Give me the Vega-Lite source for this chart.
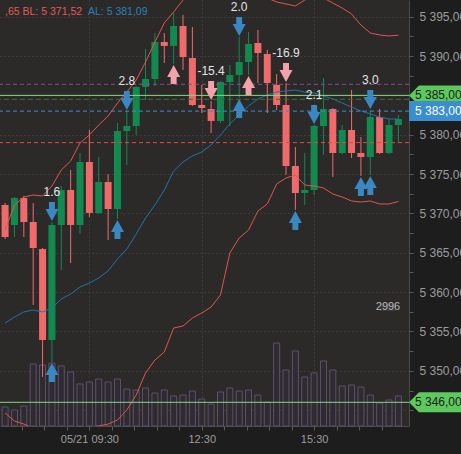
{
  "$schema": "https://vega.github.io/schema/vega-lite/v6.json",
  "width": 409,
  "height": 426,
  "autosize": {"type": "none"},
  "padding": {"left": 0, "top": 0, "right": 52, "bottom": 28},
  "background": "#1d1d1d",
  "config": {
    "view": {"fill": "#2b2a28", "stroke": null},
    "font": "Liberation Sans",
    "axis": {"labelOverlap": false, "labelFlush": false},
    "locale": {"number": {"decimal": ",", "thousands": " ", "grouping": [3], "currency": ["", ""]}}
  },
  "datasets": {
    "candles": [
      {"t": "2024-05-21T07:15:00Z", "o": 5371.07, "h": 5371.33, "l": 5366.75, "c": 5367.01, "v": 478, "bbu": 5367.90, "bbm": 5356.08, "bbl": 5344.64},
      {"t": "2024-05-21T07:30:00Z", "o": 5368.53, "h": 5372.09, "l": 5367.01, "c": 5371.96, "v": 403, "bbu": 5371.07, "bbm": 5356.84, "bbl": 5343.63},
      {"t": "2024-05-21T07:45:00Z", "o": 5371.96, "h": 5372.22, "l": 5367.01, "c": 5368.91, "v": 504, "bbu": 5372.09, "bbm": 5357.48, "bbl": 5343.24},
      {"t": "2024-05-21T08:00:00Z", "o": 5368.91, "h": 5371.33, "l": 5358.37, "c": 5365.61, "v": 1561, "bbu": 5372.34, "bbm": 5357.73, "bbl": 5342.74},
      {"t": "2024-05-21T08:15:00Z", "o": 5365.48, "h": 5365.61, "l": 5349.22, "c": 5353.92, "v": 1536, "bbu": 5372.22, "bbm": 5357.48, "bbl": 5342.23},
      {"t": "2024-05-21T08:30:00Z", "o": 5353.92, "h": 5368.91, "l": 5351.12, "c": 5368.53, "v": 1586, "bbu": 5373.49, "bbm": 5357.98, "bbl": 5341.97},
      {"t": "2024-05-21T08:45:00Z", "o": 5368.53, "h": 5373.49, "l": 5362.81, "c": 5372.98, "v": 1511, "bbu": 5375.52, "bbm": 5359.13, "bbl": 5341.97},
      {"t": "2024-05-21T09:00:00Z", "o": 5372.98, "h": 5375.52, "l": 5363.70, "c": 5368.53, "v": 1360, "bbu": 5376.66, "bbm": 5359.76, "bbl": 5342.23},
      {"t": "2024-05-21T09:15:00Z", "o": 5368.53, "h": 5377.68, "l": 5367.39, "c": 5376.54, "v": 1058, "bbu": 5378.95, "bbm": 5360.65, "bbl": 5342.61},
      {"t": "2024-05-21T09:30:00Z", "o": 5376.54, "h": 5380.60, "l": 5369.55, "c": 5370.06, "v": 1108, "bbu": 5379.97, "bbm": 5361.16, "bbl": 5342.86},
      {"t": "2024-05-21T09:45:00Z", "o": 5370.06, "h": 5377.17, "l": 5369.93, "c": 5373.99, "v": 1183, "bbu": 5381.24, "bbm": 5361.80, "bbl": 5342.99},
      {"t": "2024-05-21T10:00:00Z", "o": 5373.99, "h": 5375.01, "l": 5366.62, "c": 5370.56, "v": 1108, "bbu": 5382.38, "bbm": 5362.69, "bbl": 5343.24},
      {"t": "2024-05-21T10:15:00Z", "o": 5370.56, "h": 5381.49, "l": 5369.29, "c": 5380.47, "v": 1183, "bbu": 5384.03, "bbm": 5364.21, "bbl": 5343.75},
      {"t": "2024-05-21T10:30:00Z", "o": 5380.47, "h": 5383.02, "l": 5376.15, "c": 5381.11, "v": 932, "bbu": 5385.43, "bbm": 5365.48, "bbl": 5345.02},
      {"t": "2024-05-21T10:45:00Z", "o": 5381.11, "h": 5386.19, "l": 5379.97, "c": 5386.07, "v": 906, "bbu": 5386.96, "bbm": 5367.39, "bbl": 5346.93},
      {"t": "2024-05-21T11:00:00Z", "o": 5386.07, "h": 5390.89, "l": 5384.41, "c": 5387.08, "v": 957, "bbu": 5389.24, "bbm": 5369.42, "bbl": 5349.73},
      {"t": "2024-05-21T11:15:00Z", "o": 5387.08, "h": 5392.93, "l": 5386.19, "c": 5391.78, "v": 831, "bbu": 5391.78, "bbm": 5371.07, "bbl": 5351.38},
      {"t": "2024-05-21T11:30:00Z", "o": 5391.78, "h": 5392.93, "l": 5389.12, "c": 5391.28, "v": 906, "bbu": 5394.20, "bbm": 5372.98, "bbl": 5352.39},
      {"t": "2024-05-21T11:45:00Z", "o": 5391.28, "h": 5395.47, "l": 5388.99, "c": 5393.82, "v": 755, "bbu": 5395.60, "bbm": 5375.39, "bbl": 5355.44},
      {"t": "2024-05-21T12:00:00Z", "o": 5393.82, "h": 5395.21, "l": 5388.23, "c": 5389.88, "v": 781, "bbu": 5397.12, "bbm": 5376.54, "bbl": 5355.70},
      {"t": "2024-05-21T12:15:00Z", "o": 5389.75, "h": 5393.69, "l": 5383.65, "c": 5383.78, "v": 881, "bbu": 5398.39, "bbm": 5377.30, "bbl": 5356.71},
      {"t": "2024-05-21T12:30:00Z", "o": 5383.78, "h": 5386.32, "l": 5382.76, "c": 5383.40, "v": 680, "bbu": 5399.41, "bbm": 5377.81, "bbl": 5357.35},
      {"t": "2024-05-21T12:45:00Z", "o": 5383.27, "h": 5384.29, "l": 5380.22, "c": 5381.75, "v": 554, "bbu": 5399.66, "bbm": 5378.70, "bbl": 5358.11},
      {"t": "2024-05-21T13:00:00Z", "o": 5381.75, "h": 5386.83, "l": 5381.49, "c": 5386.70, "v": 856, "bbu": 5399.41, "bbm": 5379.97, "bbl": 5359.64},
      {"t": "2024-05-21T13:15:00Z", "o": 5386.70, "h": 5388.86, "l": 5381.11, "c": 5387.59, "v": 957, "bbu": 5398.64, "bbm": 5381.36, "bbl": 5364.97},
      {"t": "2024-05-21T13:30:00Z", "o": 5387.59, "h": 5392.42, "l": 5384.67, "c": 5389.24, "v": 881, "bbu": 5397.88, "bbm": 5382.51, "bbl": 5366.88},
      {"t": "2024-05-21T13:45:00Z", "o": 5389.24, "h": 5393.05, "l": 5387.59, "c": 5391.53, "v": 906, "bbu": 5397.37, "bbm": 5383.65, "bbl": 5367.90},
      {"t": "2024-05-21T14:00:00Z", "o": 5391.66, "h": 5393.31, "l": 5386.57, "c": 5390.39, "v": 781, "bbu": 5397.76, "bbm": 5384.54, "bbl": 5370.31},
      {"t": "2024-05-21T14:15:00Z", "o": 5390.26, "h": 5390.77, "l": 5382.76, "c": 5386.57, "v": 604, "bbu": 5397.37, "bbm": 5385.05, "bbl": 5371.20},
      {"t": "2024-05-21T14:30:00Z", "o": 5386.32, "h": 5387.72, "l": 5383.14, "c": 5383.78, "v": 2090, "bbu": 5396.87, "bbm": 5385.43, "bbl": 5373.74},
      {"t": "2024-05-21T14:45:00Z", "o": 5383.78, "h": 5386.57, "l": 5374.88, "c": 5376.03, "v": 1410, "bbu": 5396.61, "bbm": 5385.56, "bbl": 5374.50},
      {"t": "2024-05-21T15:00:00Z", "o": 5376.03, "h": 5378.44, "l": 5370.44, "c": 5372.60, "v": 1889, "bbu": 5396.36, "bbm": 5385.68, "bbl": 5374.88},
      {"t": "2024-05-21T15:15:00Z", "o": 5372.60, "h": 5377.68, "l": 5371.07, "c": 5372.98, "v": 1234, "bbu": 5397.12, "bbm": 5385.43, "bbl": 5373.61},
      {"t": "2024-05-21T15:30:00Z", "o": 5372.98, "h": 5381.24, "l": 5372.34, "c": 5381.11, "v": 1335, "bbu": 5397.63, "bbm": 5385.30, "bbl": 5373.49},
      {"t": "2024-05-21T15:45:00Z", "o": 5381.11, "h": 5387.21, "l": 5377.43, "c": 5383.27, "v": 1637, "bbu": 5397.37, "bbm": 5384.92, "bbl": 5373.23},
      {"t": "2024-05-21T16:00:00Z", "o": 5383.27, "h": 5383.40, "l": 5374.63, "c": 5377.68, "v": 1410, "bbu": 5396.74, "bbm": 5384.54, "bbl": 5372.47},
      {"t": "2024-05-21T16:15:00Z", "o": 5377.68, "h": 5381.24, "l": 5377.55, "c": 5380.60, "v": 1007, "bbu": 5396.10, "bbm": 5384.03, "bbl": 5372.09},
      {"t": "2024-05-21T16:30:00Z", "o": 5380.60, "h": 5385.68, "l": 5377.04, "c": 5377.68, "v": 1032, "bbu": 5395.34, "bbm": 5383.52, "bbl": 5371.58},
      {"t": "2024-05-21T16:45:00Z", "o": 5377.68, "h": 5379.71, "l": 5374.76, "c": 5377.17, "v": 982, "bbu": 5393.94, "bbm": 5383.02, "bbl": 5371.45},
      {"t": "2024-05-21T17:00:00Z", "o": 5377.17, "h": 5383.14, "l": 5374.88, "c": 5382.25, "v": 781, "bbu": 5392.93, "bbm": 5382.64, "bbl": 5371.58},
      {"t": "2024-05-21T17:15:00Z", "o": 5382.25, "h": 5383.27, "l": 5377.55, "c": 5377.68, "v": 579, "bbu": 5392.67, "bbm": 5382.25, "bbl": 5371.20},
      {"t": "2024-05-21T17:30:00Z", "o": 5377.68, "h": 5382.00, "l": 5377.55, "c": 5381.24, "v": 655, "bbu": 5392.55, "bbm": 5382.00, "bbl": 5371.20},
      {"t": "2024-05-21T17:45:00Z", "o": 5381.24, "h": 5382.51, "l": 5378.95, "c": 5382.00, "v": 755, "bbu": 5392.65, "bbm": 5382.00, "bbl": 5371.52}
    ],
    "arrows": [
      {"t": "2024-05-21T08:30:00Z", "price": 5368.91, "dir": "down", "side": "buy", "label": "1.6"},
      {"t": "2024-05-21T08:30:00Z", "price": 5351.12, "dir": "up", "side": "buy"},
      {"t": "2024-05-21T10:15:00Z", "price": 5369.29, "dir": "up", "side": "buy"},
      {"t": "2024-05-21T10:30:00Z", "price": 5383.02, "dir": "down", "side": "buy", "label": "2.8"},
      {"t": "2024-05-21T11:45:00Z", "price": 5388.99, "dir": "up", "side": "sell"},
      {"t": "2024-05-21T12:45:00Z", "price": 5384.29, "dir": "down", "side": "sell", "label": "-15.4"},
      {"t": "2024-05-21T13:30:00Z", "price": 5392.42, "dir": "down", "side": "buy", "label": "2.0"},
      {"t": "2024-05-21T13:30:00Z", "price": 5384.67, "dir": "up", "side": "buy"},
      {"t": "2024-05-21T13:45:00Z", "price": 5387.59, "dir": "up", "side": "sell"},
      {"t": "2024-05-21T14:45:00Z", "price": 5386.57, "dir": "down", "side": "sell", "label": "-16.9"},
      {"t": "2024-05-21T15:00:00Z", "price": 5370.44, "dir": "up", "side": "buy"},
      {"t": "2024-05-21T15:30:00Z", "price": 5381.24, "dir": "down", "side": "buy", "label": "2.1"},
      {"t": "2024-05-21T16:45:00Z", "price": 5374.76, "dir": "up", "side": "buy"},
      {"t": "2024-05-21T17:00:00Z", "price": 5383.14, "dir": "down", "side": "buy", "label": "3.0"},
      {"t": "2024-05-21T17:00:00Z", "price": 5374.88, "dir": "up", "side": "buy"}
    ],
    "levels": [
      {"name": "purple", "price": 5386.41},
      {"name": "green", "price": 5385.0},
      {"name": "darkgreen", "price": 5384.5},
      {"name": "blue", "price": 5383.0},
      {"name": "red", "price": 5379.0},
      {"name": "green2", "price": 5346.0}
    ],
    "tags": [
      {"price": 5346.0, "kind": "green"},
      {"price": 5385.0, "kind": "green"},
      {"price": 5383.0, "kind": "blue"}
    ],
    "legend": [
      {"t": "2024-05-21T07:14:50Z", "price": 5395.6, "red": ",65 BL: 5 371,52", "blue": "AL: 5 381,09"}
    ],
    "volmax": [{"v": 2996}]
  },
  "layer": [
    {
      "layer": [
        {
          "data": {"name": "candles"},
          "mark": {"type": "bar", "width": 6, "fill": "#2f2b33", "stroke": "#5e5169", "strokeWidth": 1},
          "encoding": {
            "x": {
              "field": "t", "type": "temporal", "title": null,
              "scale": {"type": "utc", "domain": [{"year": 2024, "month": 5, "date": 21, "hours": 7, "minutes": 14, "seconds": 50, "utc": true}, {"year": 2024, "month": 5, "date": 21, "hours": 17, "minutes": 54, "utc": true}]},
              "axis": {
                "orient": "bottom",
                "tickCount": 100,
                "values": [
                  {"year": 2024, "month": 5, "date": 21, "hours": 7, "minutes": 42, "utc": true},
                  {"year": 2024, "month": 5, "date": 21, "hours": 8, "minutes": 18, "utc": true},
                  {"year": 2024, "month": 5, "date": 21, "hours": 8, "minutes": 54, "utc": true},
                  {"year": 2024, "month": 5, "date": 21, "hours": 9, "minutes": 30, "utc": true},
                  {"year": 2024, "month": 5, "date": 21, "hours": 10, "minutes": 6, "utc": true},
                  {"year": 2024, "month": 5, "date": 21, "hours": 10, "minutes": 42, "utc": true},
                  {"year": 2024, "month": 5, "date": 21, "hours": 11, "minutes": 18, "utc": true},
                  {"year": 2024, "month": 5, "date": 21, "hours": 11, "minutes": 54, "utc": true},
                  {"year": 2024, "month": 5, "date": 21, "hours": 12, "minutes": 30, "utc": true},
                  {"year": 2024, "month": 5, "date": 21, "hours": 13, "minutes": 6, "utc": true},
                  {"year": 2024, "month": 5, "date": 21, "hours": 13, "minutes": 42, "utc": true},
                  {"year": 2024, "month": 5, "date": 21, "hours": 14, "minutes": 18, "utc": true},
                  {"year": 2024, "month": 5, "date": 21, "hours": 14, "minutes": 54, "utc": true},
                  {"year": 2024, "month": 5, "date": 21, "hours": 15, "minutes": 30, "utc": true},
                  {"year": 2024, "month": 5, "date": 21, "hours": 16, "minutes": 6, "utc": true},
                  {"year": 2024, "month": 5, "date": 21, "hours": 16, "minutes": 42, "utc": true},
                  {"year": 2024, "month": 5, "date": 21, "hours": 17, "minutes": 18, "utc": true}
                ],
                "labelExpr": "utcminutes(datum.value) == 30 ? (utchours(datum.value) == 9 ? '05/21 09:30' : utcFormat(datum.value, '%H:%M')) : ''",
                "labelColor": "#9c9c9c", "labelFontSize": 11, "labelPadding": 3, "labelOverlap": false, "labelFlush": false,
                "tickColor": "#5a5a5a", "tickSize": 4,
                "domainColor": "#4a4a4a",
                "grid": true, "gridColor": "#4c4c4c", "gridDash": [1, 3],
                "gridOpacity": {"condition": {"test": "utcminutes(datum.value) == 30", "value": 1}, "value": 0}
              }
            },
            "y": {"field": "v", "type": "quantitative", "title": null, "scale": {"domain": [0, 10725], "nice": false, "zero": true}, "axis": null}
          }
        },
        {
          "data": {"name": "volmax"},
          "mark": {"type": "point", "shape": "M-1,-0.5L1,-0.5L1,0.5L-1,0.5Z", "size": 256, "filled": true, "color": "#3a393d", "opacity": 1, "xOffset": -21},
          "encoding": {"x": {"value": "width"}, "y": {"field": "v", "type": "quantitative", "title": null}}
        },
        {
          "data": {"name": "volmax"},
          "mark": {"type": "text", "color": "#b4b4b4", "fontSize": 11, "align": "center", "baseline": "middle", "dx": -21},
          "encoding": {"x": {"value": "width"}, "y": {"field": "v", "type": "quantitative", "title": null}, "text": {"field": "v", "type": "quantitative", "format": "d"}}
        }
      ]
    },
    {
      "layer": [
        {
          "data": {"name": "candles"},
          "mark": {"type": "rule", "strokeWidth": 1},
          "encoding": {
            "x": {"field": "t", "type": "temporal", "title": null, "scale": {"type": "utc"}},
            "y": {
              "field": "l", "type": "quantitative", "title": null,
              "scale": {"domain": [5342.99, 5397.12], "nice": false, "zero": false},
              "axis": {
                "orient": "right",
                "tickCount": 100,
                "values": [5345, 5347.5, 5350, 5352.5, 5355, 5357.5, 5360, 5362.5, 5365, 5367.5, 5370, 5372.5, 5375, 5377.5, 5380, 5382.5, 5385, 5387.5, 5390, 5392.5, 5395],
                "format": ",.2f",
                "labelExpr": "datum.value % 5 == 0 && datum.value > 5345 && datum.value != 5385 ? datum.label : ''",
                "labelColor": "#9c9c9c", "labelFontSize": 12, "labelPadding": 6, "labelOverlap": false, "labelFlush": false,
                "tickColor": "#5a5a5a", "tickSize": 4,
                "domainColor": "#4a4a4a",
                "grid": true, "gridColor": "#4c4c4c", "gridDash": [1, 3],
                "gridOpacity": {"condition": {"test": "datum.value % 5 == 0", "value": 1}, "value": 0}
              }
            },
            "y2": {"field": "h"},
            "color": {"condition": {"test": "datum.c >= datum.o", "value": "#128a4f"}, "value": "#ef6a6a"}
          }
        },
        {
          "data": {"name": "candles"},
          "mark": {"type": "bar", "width": 7},
          "encoding": {
            "x": {"field": "t", "type": "temporal", "title": null, "scale": {"type": "utc"}},
            "y": {"field": "o", "type": "quantitative", "title": null},
            "y2": {"field": "c"},
            "color": {"condition": {"test": "datum.c >= datum.o", "value": "#128a4f"}, "value": "#ef6a6a"}
          }
        },
        {
          "data": {"name": "candles"},
          "mark": {"type": "line", "color": "#e2544f", "strokeWidth": 1, "clip": true},
          "encoding": {"x": {"field": "t", "type": "temporal", "title": null, "scale": {"type": "utc"}}, "y": {"field": "bbu", "type": "quantitative", "title": null}}
        },
        {
          "data": {"name": "candles"},
          "mark": {"type": "line", "color": "#e2544f", "strokeWidth": 1, "clip": true},
          "encoding": {"x": {"field": "t", "type": "temporal", "title": null, "scale": {"type": "utc"}}, "y": {"field": "bbl", "type": "quantitative", "title": null}}
        },
        {
          "data": {"name": "candles"},
          "mark": {"type": "line", "color": "#1c75a8", "strokeWidth": 1, "clip": true},
          "encoding": {"x": {"field": "t", "type": "temporal", "title": null, "scale": {"type": "utc"}}, "y": {"field": "bbm", "type": "quantitative", "title": null}}
        },
        {
          "data": {"name": "levels"},
          "mark": {"type": "rule", "strokeWidth": 1},
          "encoding": {
            "y": {"field": "price", "type": "quantitative", "title": null},
            "color": {"field": "name", "type": "nominal", "legend": null,
              "scale": {"domain": ["purple", "green", "darkgreen", "blue", "red", "green2"], "range": ["#7a5590", "#84d884", "#3e6e36", "#3d8ed0", "#e04848", "#84d884"]}},
            "strokeDash": {"field": "name", "type": "nominal", "legend": null,
              "scale": {"domain": ["purple", "green", "darkgreen", "blue", "red", "green2"], "range": [[4, 3], [1, 0], [5, 3], [4, 3], [4, 3], [1, 0]]}}
          }
        },
        {
          "data": {"name": "arrows"},
          "mark": {"type": "point", "filled": true, "opacity": 1, "size": 169, "strokeWidth": 0},
          "encoding": {
            "x": {"field": "t", "type": "temporal", "title": null, "scale": {"type": "utc"}},
            "y": {"field": "price", "type": "quantitative", "title": null},
            "shape": {"field": "dir", "type": "nominal", "legend": null,
              "scale": {"domain": ["down", "up"], "range": ["M-0.46,-3.08L0.46,-3.08L0.46,-2L1,-2L0,-0.15L-1,-2L-0.46,-2Z", "M-0.46,3.08L0.46,3.08L0.46,2L1,2L0,0.15L-1,2L-0.46,2Z"]}},
            "color": {"field": "side", "type": "nominal", "legend": null,
              "scale": {"domain": ["buy", "sell"], "range": ["#3a87c2", "#f3a2ac"]}}
          }
        },
        {
          "data": {"name": "arrows"},
          "transform": [{"filter": "isValid(datum.label)"}],
          "mark": {"type": "text", "color": "#e4e4e4", "fontSize": 12, "align": "center", "baseline": "middle", "dy": -30},
          "encoding": {
            "x": {"field": "t", "type": "temporal", "title": null, "scale": {"type": "utc"}},
            "y": {"field": "price", "type": "quantitative", "title": null},
            "text": {"field": "label", "type": "nominal"}
          }
        },
        {
          "data": {"name": "tags"},
          "mark": {"type": "point", "filled": true, "opacity": 1, "size": 400, "strokeWidth": 0},
          "encoding": {
            "x": {"value": "width"},
            "y": {"field": "price", "type": "quantitative", "title": null},
            "shape": {"field": "kind", "type": "nominal", "legend": null,
              "scale": {"domain": ["green", "blue"], "range": ["M0,0L1,-1L5.4,-1L5.4,1L1,1Z", "M0,-1L5.4,-1L5.4,1L0,1Z"]}},
            "color": {"field": "kind", "type": "nominal", "legend": null,
              "scale": {"domain": ["green", "blue"], "range": ["#5cc95c", "#3a8ecf"]}}
          }
        },
        {
          "data": {"name": "tags"},
          "mark": {"type": "text", "fontSize": 12, "align": "left", "baseline": "middle", "dx": 6},
          "encoding": {
            "x": {"value": "width"},
            "y": {"field": "price", "type": "quantitative", "title": null},
            "text": {"field": "price", "type": "quantitative", "format": ",.2f"},
            "color": {"field": "kind", "type": "nominal", "legend": null,
              "scale": {"domain": ["green", "blue"], "range": ["#1c1c1c", "#ffffff"]}}
          }
        },
        {
          "data": {"name": "legend"},
          "mark": {"type": "text", "color": "#e25a5a", "fontSize": 10.5, "align": "left", "baseline": "middle"},
          "encoding": {
            "x": {"field": "t", "type": "temporal", "title": null, "scale": {"type": "utc"}},
            "y": {"field": "price", "type": "quantitative", "title": null},
            "text": {"field": "red", "type": "nominal"}
          }
        },
        {
          "data": {"name": "legend"},
          "mark": {"type": "text", "color": "#2a80b8", "fontSize": 10.5, "align": "left", "baseline": "middle", "dx": 83},
          "encoding": {
            "x": {"field": "t", "type": "temporal", "title": null, "scale": {"type": "utc"}},
            "y": {"field": "price", "type": "quantitative", "title": null},
            "text": {"field": "blue", "type": "nominal"}
          }
        }
      ],
      "resolve": {"scale": {"color": "independent", "shape": "independent", "strokeDash": "independent"}}
    }
  ],
  "resolve": {"scale": {"y": "independent"}}
}
